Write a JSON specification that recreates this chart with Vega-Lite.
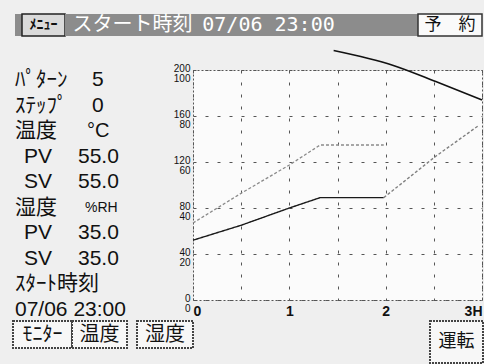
{
  "$schema": "https://vega.github.io/schema/vega-lite/v6.json",
  "background": "#efefef",
  "padding": {"left": 0, "top": 13, "right": 0, "bottom": 0},
  "spacing": 0,
  "bounds": "full",
  "config": {"view": {"stroke": null}},
  "vconcat": [
    {
      "spacing": 0,
      "bounds": "flush",
      "hconcat": [
        {"width": 15, "height": 22, "data": {"values": [{}]}, "mark": {"type": "rect", "opacity": 0}, "encoding": {}},
        {"width": 7, "height": 22, "data": {"values": [{}]}, "mark": {"type": "rect", "fill": "#8c8c8c"}, "encoding": {}},
        {"width": 43, "height": 22, "data": {"values": [{"label": "ﾒﾆｭｰ"}]},
          "layer": [
            {"mark": {"type": "rect", "fill": "#dadada", "stroke": "#222", "strokeWidth": 1.5}, "encoding": {}},
            {"mark": {"type": "text", "font": "Noto Sans CJK JP", "fontSize": 14, "fontWeight": "bold", "color": "#111"}, "encoding": {"text": {"field": "label"}}}
          ]},
        {"width": 5, "height": 22, "data": {"values": [{}]}, "mark": {"type": "rect", "fill": "#8c8c8c"}, "encoding": {}},
        {"width": 125, "height": 22, "data": {"values": [{"label": "スタート時刻"}]},
          "layer": [
            {"mark": {"type": "rect", "fill": "#8c8c8c"}, "encoding": {}},
            {"mark": {"type": "text", "font": "Noto Sans CJK JP", "fontSize": 20, "color": "#ffffff"}, "encoding": {"text": {"field": "label"}}}
          ]},
        {"width": 147, "height": 22, "data": {"values": [{"label": "07/06 23:00"}]},
          "layer": [
            {"mark": {"type": "rect", "fill": "#8c8c8c"}, "encoding": {}},
            {"mark": {"type": "text", "font": "DejaVu Sans Mono", "fontSize": 20, "color": "#ffffff"}, "encoding": {"text": {"field": "label"}}}
          ]},
        {"width": 76, "height": 22, "data": {"values": [{}]}, "mark": {"type": "rect", "fill": "#8c8c8c"}, "encoding": {}},
        {"width": 64, "height": 22, "data": {"values": [{"label": "予　約"}]},
          "layer": [
            {"mark": {"type": "rect", "fill": "#fafafa", "stroke": "#333", "strokeWidth": 1.5}, "encoding": {}},
            {"mark": {"type": "text", "font": "Noto Sans CJK JP", "fontSize": 17, "color": "#111"}, "encoding": {"text": {"field": "label"}}}
          ]}
      ]
    },
    {"width": 484, "height": 9, "data": {"values": [{}]}, "mark": {"type": "rect", "opacity": 0}, "encoding": {}},
    {
      "spacing": 0,
      "bounds": "flush",
      "hconcat": [
        {
          "width": 193,
          "height": 250,
          "data": {"values": [
            {"row": 1, "label": "ﾊﾟﾀｰﾝ", "value": "5"},
            {"row": 2, "label": "ｽﾃｯﾌﾟ", "value": "0"},
            {"row": 3, "label": "温度", "value": "°C"},
            {"row": 4, "label": "PV", "value": "55.0"},
            {"row": 5, "label": "SV", "value": "55.0"},
            {"row": 6, "label": "湿度", "value": "%RH"},
            {"row": 7, "label": "PV", "value": "35.0"},
            {"row": 8, "label": "SV", "value": "35.0"},
            {"row": 9, "label": "ｽﾀｰﾄ時刻", "value": ""},
            {"row": 10, "label": "07/06 23:00", "value": ""}
          ]},
          "encoding": {
            "y": {"field": "row", "type": "ordinal", "axis": null, "scale": {"type": "point", "padding": 0.4}}
          },
          "layer": [
            {
              "transform": [{"filter": "datum.label != 'PV' && datum.label != 'SV'"}],
              "mark": {"type": "text", "align": "left", "baseline": "middle", "font": "Liberation Sans, Noto Sans CJK JP", "fontSize": 21, "color": "#111"},
              "encoding": {
                "x": {"datum": "name", "type": "nominal", "axis": null, "scale": {"type": "point", "padding": 0, "domain": ["name", "val"], "range": [15, 79]}},
                "text": {"field": "label"}
              }
            },
            {
              "transform": [{"filter": "datum.label == 'PV' || datum.label == 'SV'"}],
              "mark": {"type": "text", "align": "left", "baseline": "middle", "font": "Liberation Sans", "fontSize": 21, "color": "#111", "dx": 9},
              "encoding": {
                "x": {"datum": "name", "type": "nominal"},
                "text": {"field": "label"}
              }
            },
            {
              "transform": [{"filter": "length(datum.value) >= 4"}],
              "mark": {"type": "text", "align": "left", "baseline": "middle", "font": "Liberation Sans", "fontSize": 21, "color": "#111", "dx": -1},
              "encoding": {
                "x": {"datum": "val", "type": "nominal"},
                "text": {"field": "value"}
              }
            },
            {
              "transform": [{"filter": "length(datum.value) == 1"}],
              "mark": {"type": "text", "align": "left", "baseline": "middle", "font": "Liberation Sans", "fontSize": 21, "color": "#111", "dx": 13},
              "encoding": {
                "x": {"datum": "val", "type": "nominal"},
                "text": {"field": "value"}
              }
            },
            {
              "transform": [{"filter": "datum.value == '°C'"}],
              "mark": {"type": "text", "align": "left", "baseline": "middle", "font": "Liberation Sans", "fontSize": 20, "color": "#111", "dx": 8},
              "encoding": {
                "x": {"datum": "val", "type": "nominal"},
                "text": {"field": "value"}
              }
            },
            {
              "transform": [{"filter": "datum.value == '%RH'"}],
              "mark": {"type": "text", "align": "left", "baseline": "middle", "font": "Liberation Sans", "fontSize": 14, "color": "#111", "dx": 6},
              "encoding": {
                "x": {"datum": "val", "type": "nominal"},
                "text": {"field": "value"}
              }
            }
          ]
        },
        {
          "width": 289,
          "height": 230,
          "view": {"fill": "#fbfbfb", "stroke": "#555", "strokeDash": [2, 2]},
          "resolve": {"scale": {"y": "independent", "color": "independent", "strokeDash": "independent"}},
          "layer": [
            {
              "data": {"values": [
                {"series": "温度PV", "hour": 0, "temp": 52},
                {"series": "温度PV", "hour": 0.5, "temp": 65},
                {"series": "温度PV", "hour": 1.0, "temp": 80},
                {"series": "温度PV", "hour": 1.32, "temp": 89},
                {"series": "温度PV", "hour": 1.98, "temp": 89},
                {"series": "温度SV", "hour": 1.98, "temp": 89},
                {"series": "温度SV", "hour": 2.52, "temp": 125},
                {"series": "温度SV", "hour": 2.97, "temp": 152}
              ]},
              "mark": {"type": "line", "strokeWidth": 1.4},
              "encoding": {
                "x": {"field": "hour", "type": "quantitative", "scale": {"domain": [0, 3], "nice": false},
                  "axis": {"values": [0, 0.5, 1, 1.5, 2, 2.5, 3], "labelExpr": "datum.value == 3 ? '3H' : (datum.value % 1 == 0 ? format(datum.value, 'd') : '')", "title": null, "ticks": false, "domain": false, "grid": true, "gridColor": "#555", "gridDash": [3, 9], "labelFlush": true, "labelOverlap": false, "labelFont": "Liberation Sans", "labelFontSize": 14, "labelFontWeight": "bold", "labelColor": "#111", "labelPadding": 4}},
                "y": {"field": "temp", "type": "quantitative", "scale": {"domain": [0, 200], "nice": false},
                  "axis": {"values": [0, 40, 80, 120, 160, 200], "labelExpr": "[format(datum.value, 'd'), format(datum.value / 2, 'd')]", "title": null, "ticks": false, "domain": false, "grid": true, "gridColor": "#555", "gridDash": [3, 9], "labelOverlap": false, "labelFont": "Liberation Sans", "labelFontSize": 10, "labelLineHeight": 10, "labelColor": "#111", "labelPadding": 3, "labelOffset": -2}},
                "color": {"field": "series", "type": "nominal", "legend": null, "scale": {"domain": ["温度PV", "温度SV"], "range": ["#1a1a1a", "#808080"]}},
                "strokeDash": {"field": "series", "type": "nominal", "legend": null, "scale": {"domain": ["温度PV", "温度SV"], "range": [[1, 0], [3, 2]]}}
              }
            },
            {
              "data": {"values": [
                {"hour": 0, "rh": 33.5},
                {"hour": 0.5, "rh": 46.4},
                {"hour": 1.0, "rh": 58.7},
                {"hour": 1.32, "rh": 67.4},
                {"hour": 1.98, "rh": 67.4}
              ]},
              "mark": {"type": "line", "color": "#8a8a8a", "strokeWidth": 1.3, "strokeDash": [3, 2]},
              "encoding": {
                "x": {"field": "hour", "type": "quantitative"},
                "y": {"field": "rh", "type": "quantitative", "scale": {"domain": [0, 100], "nice": false}, "axis": null}
              }
            },
            {
              "data": {"values": [
                {"hour": 1.46, "temp": 217},
                {"hour": 2.08, "temp": 204},
                {"hour": 2.52, "temp": 190},
                {"hour": 3.0, "temp": 174}
              ]},
              "mark": {"type": "line", "color": "#111", "strokeWidth": 1.6, "clip": false, "interpolate": "monotone"},
              "encoding": {
                "x": {"field": "hour", "type": "quantitative"},
                "y": {"field": "temp", "type": "quantitative", "scale": {"domain": [0, 200], "nice": false}, "axis": null}
              }
            }
          ]
        }
      ]
    },
    {
      "spacing": 0,
      "bounds": "flush",
      "hconcat": [
        {"width": 13, "height": 27, "data": {"values": [{}]}, "mark": {"type": "rect", "opacity": 0}, "encoding": {}},
        {"width": 59, "height": 27, "data": {"values": [{"label": "ﾓﾆﾀｰ"}]},
          "layer": [
            {"mark": {"type": "rect", "fill": "#f7f7f7", "stroke": "#444", "strokeWidth": 2, "strokeDash": [2, 1]}, "encoding": {}},
            {"mark": {"type": "text", "font": "Noto Sans CJK JP", "fontSize": 20, "color": "#111"}, "encoding": {"text": {"field": "label"}}}
          ]},
        {"width": 55, "height": 27, "data": {"values": [{"label": "温度"}]},
          "layer": [
            {"mark": {"type": "rect", "fill": "#f7f7f7", "stroke": "#444", "strokeWidth": 2, "strokeDash": [2, 1]}, "encoding": {}},
            {"mark": {"type": "text", "font": "Noto Sans CJK JP", "fontSize": 20, "color": "#111"}, "encoding": {"text": {"field": "label"}}}
          ]},
        {"width": 10, "height": 27, "data": {"values": [{}]}, "mark": {"type": "rect", "opacity": 0}, "encoding": {}},
        {"width": 56, "height": 27, "data": {"values": [{"label": "湿度"}]},
          "layer": [
            {"mark": {"type": "rect", "fill": "#f7f7f7", "stroke": "#444", "strokeWidth": 2, "strokeDash": [2, 1]}, "encoding": {}},
            {"mark": {"type": "text", "font": "Noto Sans CJK JP", "fontSize": 20, "color": "#111"}, "encoding": {"text": {"field": "label"}}}
          ]},
        {"width": 237, "height": 27, "data": {"values": [{}]}, "mark": {"type": "rect", "opacity": 0}, "encoding": {}},
        {"width": 53, "height": 42, "data": {"values": [{"label": "運転"}]},
          "layer": [
            {"mark": {"type": "rect", "fill": "#f7f7f7", "stroke": "#444", "strokeWidth": 2, "strokeDash": [2, 1]}, "encoding": {}},
            {"mark": {"type": "text", "font": "Noto Sans CJK JP", "fontSize": 18, "color": "#111"}, "encoding": {"text": {"field": "label"}}}
          ]}
      ]
    }
  ]
}
